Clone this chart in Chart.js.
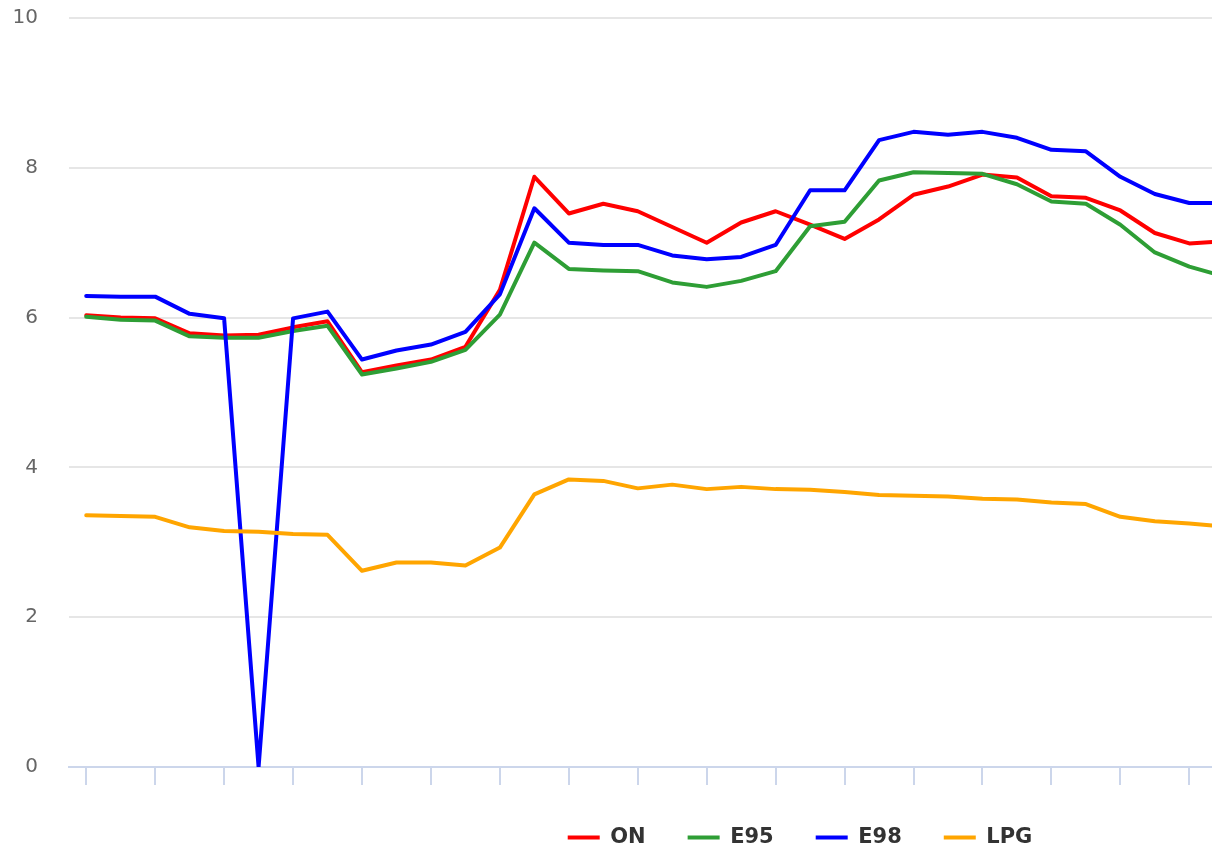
<!DOCTYPE html>
<html>
<head>
<meta charset="utf-8">
<script src="https://cdn.jsdelivr.net/npm/chart.js@4.4.1/dist/chart.umd.min.js"></script>
<style>
  html, body { margin: 0; padding: 0; background: #ffffff; overflow: hidden; }
  #wrap { width: 1212px; height: 853px; overflow: hidden; }
</style>
</head>
<body>
<div id="wrap"><canvas id="fuelChart" width="1587" height="853"></canvas></div>
<script>
// categories (x labels are not shown on the chart)
const categories = ['1', '2', '3', '4', '5', '6', '7', '8', '9', '10', '11', '12', '13', '14', '15', '16', '17',
                    '18', '19', '20', '21', '22', '23', '24', '25', '26', '27', '28', '29', '30', '31', '32', '33', '34'];

const onValues  = [6.03, 6.00, 5.99, 5.79, 5.76, 5.77, 5.87, 5.95, 5.27, 5.36, 5.44, 5.61, 6.37, 7.88, 7.39, 7.52, 7.42,
                   7.21, 7.00, 7.27, 7.42, 7.24, 7.05, 7.31, 7.64, 7.75, 7.91, 7.87, 7.62, 7.60, 7.43, 7.13, 6.99, 7.02];
const e95Values = [6.01, 5.97, 5.96, 5.75, 5.73, 5.73, 5.82, 5.89, 5.24, 5.32, 5.41, 5.57, 6.04, 7.00, 6.65, 6.63, 6.62,
                   6.47, 6.41, 6.49, 6.62, 7.22, 7.28, 7.83, 7.94, 7.93, 7.92, 7.78, 7.55, 7.52, 7.24, 6.87, 6.68, 6.55];
const e98Values = [6.29, 6.28, 6.28, 6.05, 5.99, 0, 5.99, 6.08, 5.44, 5.56, 5.64, 5.81, 6.31, 7.46, 7.00, 6.97, 6.97,
                   6.83, 6.78, 6.81, 6.97, 7.70, 7.70, 8.37, 8.48, 8.44, 8.48, 8.40, 8.24, 8.22, 7.88, 7.65, 7.53, 7.53];
const lpgValues = [3.36, 3.35, 3.34, 3.20, 3.15, 3.14, 3.11, 3.10, 2.62, 2.73, 2.73, 2.69, 2.93, 3.64, 3.84, 3.82, 3.72,
                   3.77, 3.71, 3.74, 3.71, 3.70, 3.67, 3.63, 3.62, 3.61, 3.58, 3.57, 3.53, 3.51, 3.34, 3.28, 3.25, 3.21];

const yMin = 0;
const yMax = 10;
const yStep = 2;

document.addEventListener('DOMContentLoaded', function() {
    Chart.defaults.font.family = '"DejaVu Sans", sans-serif';

    // legend sits lower than its label padding alone would give
    const legendHeight = {
        id: 'legendHeight',
        beforeInit(chart) {
            const fit = chart.legend.fit;
            chart.legend.fit = function() {
                fit.bind(chart.legend)();
                this.height = 68;
            };
        }
    };

    function line(label, data, color, order) {
        return {
            label: label,
            data: data,
            borderColor: color,
            backgroundColor: color,
            borderWidth: 4,
            pointRadius: 0,
            pointHoverRadius: 0,
            tension: 0,
            borderJoinStyle: 'round',
            borderCapStyle: 'round',
            fill: false,
            order: order,
            yAxisID: 'y'
        };
    }

    const ctx = document.getElementById('fuelChart');
    new Chart(ctx, {
        type: 'line',
        data: {
            labels: categories,
            datasets: [
                line('ON', onValues, '#ff0000', 4),
                line('E95', e95Values, '#2e9e35', 3),
                line('E98', e98Values, '#0000ff', 2),
                line('LPG', lpgValues, '#ffa500', 1)
            ]
        },
        options: {
            responsive: false,
            animation: false,
            layout: { padding: { left: 13, top: 18, right: 0, bottom: 0 } },
            plugins: {
                tooltip: { enabled: false },
                legend: {
                    position: 'bottom',
                    labels: {
                        usePointStyle: true,
                        pointStyle: 'line',
                        pointStyleWidth: 32,
                        padding: 42,
                        color: '#333333',
                        font: { size: 21, weight: 'bold' },
                        sort: (a, b) => a.datasetIndex - b.datasetIndex
                    }
                }
            },
            scales: {
                x: {
                    type: 'category',
                    offset: true,
                    ticks: { display: false },
                    grid: {
                        display: true,
                        drawOnChartArea: false,
                        drawTicks: true,
                        tickLength: 18,
                        lineWidth: 2,
                        color: c => c.index % 2 === 0 ? '#ccd6eb' : 'rgba(0,0,0,0)'
                    },
                    border: { display: true, color: '#ccd6eb', width: 2 }
                },
                y: {
                    position: 'left',
                    min: yMin,
                    max: yMax,
                    ticks: {
                        stepSize: yStep,
                        padding: 31,
                        color: '#666666',
                        font: { size: 20 }
                    },
                    grid: {
                        drawTicks: false,
                        lineWidth: 2,
                        color: c => c.tick && c.tick.value === 0 ? 'rgba(0,0,0,0)' : '#e6e6e6'
                    },
                    border: { display: false },
                    afterFit: function(scale) {
                        scale.width = 56;
                        scale.paddingTop = 0;
                        scale.paddingBottom = 0;
                    }
                },
                // empty axis on the right: the plot runs past the visible window
                spacer: {
                    type: 'linear',
                    position: 'right',
                    display: true,
                    ticks: { display: false },
                    grid: { display: false, drawTicks: false },
                    border: { display: false },
                    afterFit: function(scale) { scale.width = 346; }
                }
            }
        },
        plugins: [legendHeight]
    });
});
</script>
</body>
</html>
